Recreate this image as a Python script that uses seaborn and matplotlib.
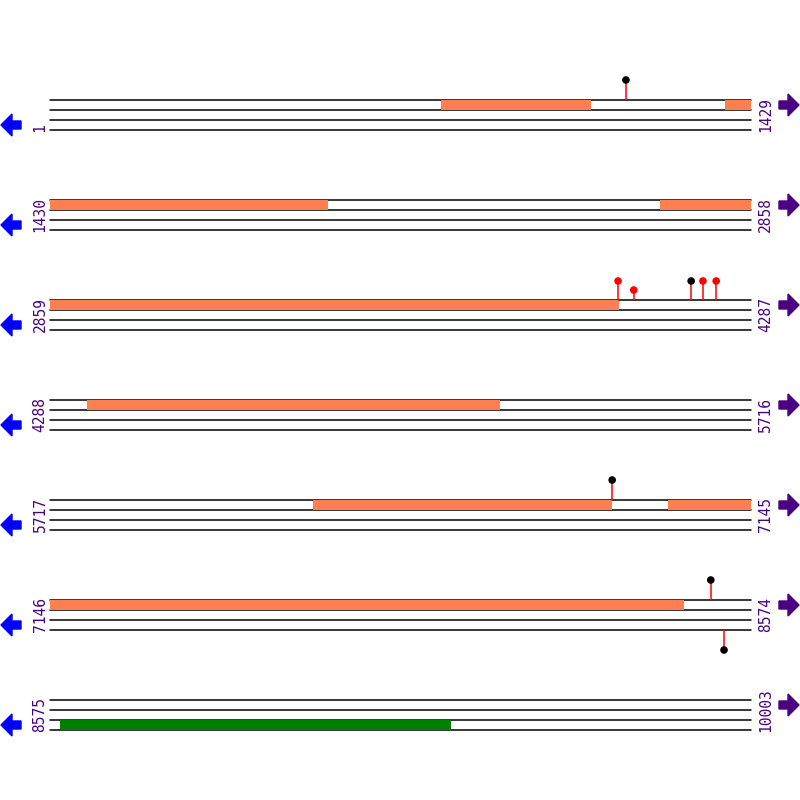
import matplotlib
matplotlib.use("Agg")
import matplotlib.pyplot as plt
import seaborn as sns
import pandas as pd

sns.set_style("white")

row_starts = [1, 1430, 2859, 4288, 5717, 7146, 8575]
row_end_labels = ["1429", "2858", "4287", "5716", "7145", "8574", "10003"]
row_len = 1429

# forward-strand features (orange)
fwd_starts = [798, 1377, 1430, 2673, 2859, 4363, 6253, 6977, 7146]
fwd_ends = [1104, 1429, 1997, 2858, 4019, 5205, 6863, 7145, 8438]
# reverse-strand feature (green)
rev_starts = [8595]
rev_ends = [9392]

# lollipops: position, height (px above/below), head colour, direction
lol_pos = [1175, 4017, 4049, 4166, 4190, 4217, 6863, 8493, 8520]
lol_height = [20, 19, 10, 19, 19, 19, 20, 20, 20]
lol_color = ["black", "red", "red", "black", "red", "red", "black", "black", "black"]
lol_dir = [1, 1, 1, 1, 1, 1, 1, 1, -1]

fig = plt.figure(figsize=(8, 8), dpi=100)
px_per_bp = 701 / row_len
purple = "#4B0082"

for i, start in enumerate(row_starts):
    top = 50 + 100 * i
    ax = fig.add_axes([0, 1 - (top + 100) / 800, 1, 100 / 800])
    left = start - 50 / px_per_bp
    right = start + 750 / px_per_bp
    ax.set_xlim(left, right)
    ax.set_ylim(100, 0)
    ax.axis("off")
    end = start + row_len - 1
    base = 50  # local y of first line
    for k in range(4):
        ax.plot([start, end], [base + 10 * k] * 2, color="black", lw=1.1, zorder=2)
    for s, e in zip(fwd_starts, fwd_ends):
        if s >= start and s <= end:
            ax.fill_between([s, min(e, end)], base, base + 10, color="#FF7F50", lw=0, zorder=3)
    for s, e in zip(rev_starts, rev_ends):
        if s >= start and s <= end:
            ax.fill_between([s, min(e, end)], base + 20, base + 30, color="green", lw=0, zorder=3)
    pts = []
    for p, h, c, d in zip(lol_pos, lol_height, lol_color, lol_dir):
        if start <= p <= end:
            y0 = base if d > 0 else base + 30
            y1 = y0 - h * d
            ax.plot([p, p], [y0, y1], color="red", lw=1.1, zorder=4, clip_on=False)
            pts.append((p, y1, c))
    if pts:
        df = pd.DataFrame(pts, columns=["x", "y", "c"])
        sns.scatterplot(data=df, x="x", y="y", hue="c", palette={"black": "black", "red": "red"},
                        s=30, edgecolor="none", legend=False, ax=ax, zorder=5, clip_on=False)
        ax.set_xlabel(""); ax.set_ylabel("")
        ax.axis("off")
    ax.text(start - 10 / px_per_bp, base + 32, str(start), rotation=90, ha="center", va="bottom",
            color=purple, fontsize=10.5, family="DejaVu Sans Mono")
    ax.text(end + 15 / px_per_bp, base + 32, row_end_labels[i], rotation=90, ha="center", va="bottom",
            color=purple, fontsize=10.5, family="DejaVu Sans Mono")
    # arrows in figure pixels
    yl = 800 - (top + base + 25)
    fig.patches.append(matplotlib.patches.FancyArrow(21, yl, -20, 0, width=8, head_width=22, head_length=11,
                       length_includes_head=True, color="blue", transform=None, figure=fig))
    yr = 800 - (top + base + 5)
    fig.patches.append(matplotlib.patches.FancyArrow(779, yr, 20, 0, width=8, head_width=22, head_length=11,
                       length_includes_head=True, color=purple, transform=None, figure=fig))

fig.savefig("out.png", dpi=100)
